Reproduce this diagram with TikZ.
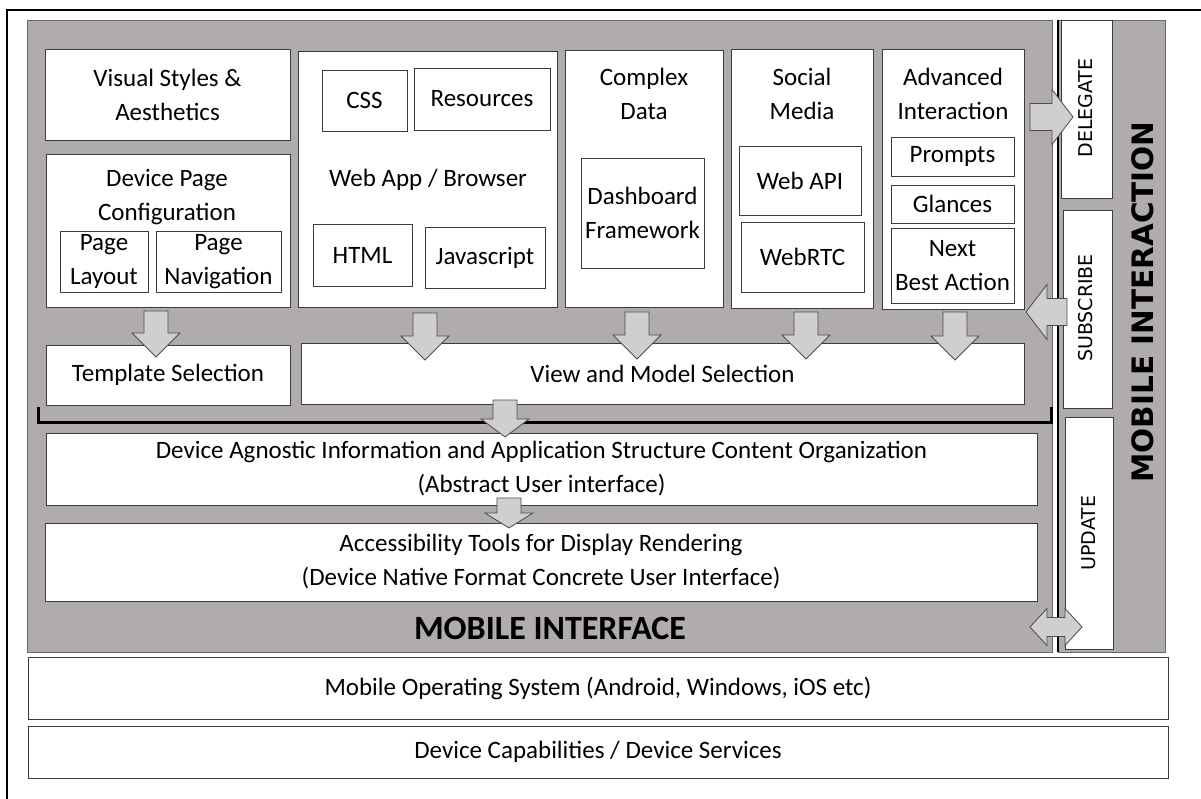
\documentclass[tikz,border=0pt]{standalone}
\usepackage{fontspec}
\setmainfont{Carlito}
\newfontfamily\vfont{DejaVu Sans}
\definecolor{panelgray}{RGB}{176,172,171}
\definecolor{arrowgray}{RGB}{208,206,206}
\definecolor{edge}{RGB}{60,60,60}
\newcommand\bx[7][]{\node[box,#1,minimum width={#4-#2},minimum height={#5-#3}] (#6) at (#2,#3) {};
  \node[txt] at (#6.center) {#7};}
\newcommand\darr[6]{\draw[blk] ({#1-#4},#2) -- ({#1+#4},#2) -- ({#1+#4},{#3-#6}) -- ({#1+#5},{#3-#6}) -- (#1,#3) -- ({#1-#5},{#3-#6}) -- ({#1-#4},{#3-#6}) -- cycle;}
\newcommand\rarr[6]{\draw[blk] (#1,{#3-#4}) -- ({#2-#6},{#3-#4}) -- ({#2-#6},{#3-#5}) -- (#2,#3) -- ({#2-#6},{#3+#5}) -- ({#2-#6},{#3+#4}) -- (#1,{#3+#4}) -- cycle;}
\newcommand\larr[6]{\draw[blk] (#2,{#3-#4}) -- ({#1+#6},{#3-#4}) -- ({#1+#6},{#3-#5}) -- (#1,#3) -- ({#1+#6},{#3+#5}) -- ({#1+#6},{#3+#4}) -- (#2,{#3+#4}) -- cycle;}
\newcommand\lrarr[6]{\draw[blk] (#1,#3) -- ({#1+#6},{#3-#5}) -- ({#1+#6},{#3-#4}) -- ({#2-#6},{#3-#4}) -- ({#2-#6},{#3-#5}) -- (#2,#3) -- ({#2-#6},{#3+#5}) -- ({#2-#6},{#3+#4}) -- ({#1+#6},{#3+#4}) -- ({#1+#6},{#3+#5}) -- cycle;}
\begin{document}
\begin{tikzpicture}[x=1pt,y=-1pt,
  box/.style={draw=edge,line width=0.9pt,fill=white,inner sep=0pt,outer sep=0pt,anchor=north west},
  txt/.style={font=\fontsize{25}{34}\selectfont,align=center,inner sep=0pt},
  vtxt/.style={font=\vfont\fontsize{19}{22}\selectfont,rotate=90,inner sep=0pt},
  blk/.style={draw=black!70,fill=arrowgray,line width=0.8pt,line join=miter},
  panel/.style={draw=black!60,fill=panelgray,line width=0.8pt,inner sep=0pt,outer sep=0pt,anchor=north west}]
\useasboundingbox (0,0) rectangle (1201,799);
% outer frame
\draw[line width=2pt] (7,799) -- (7,10) -- (1201,10);
% panels
\node[panel,minimum width=1025,minimum height=632] (mi) at (27,20) {};
\node[panel,minimum width=107,minimum height=632] (mint) at (1058,20) {};
\draw[line width=1.6pt] (mint.north west) -- (mint.south west);
% top row
\bx{45}{49}{290}{140}{vis}{Visual Styles \&\\Aesthetics}
\bx{46}{154}{290}{307}{dpc}{}
\node[txt] (dpct) at (167,197) {Device Page\\Configuration};
\bx{60}{231}{148}{292}{pl}{\fontsize{25}{31}\selectfont Page\\Layout}
\bx{156}{231}{281}{292}{pn}{\fontsize{25}{31}\selectfont Page\\Navigation}
\bx{298}{51}{557}{307}{web}{}
\node[txt] (webt) at (428,180) {Web App / Browser};
\bx{322}{70}{407}{131}{css}{CSS}
\bx{414}{68}{550}{130}{res}{Resources}
\bx{313}{224}{412}{286}{html}{HTML}
\bx{425}{227}{545}{288}{js}{Javascript}
\bx{565}{50}{723}{307}{cd}{}
\node[txt] (cdt) at (644,94) {Complex\\Data};
\bx{581}{158}{704}{268}{dash}{\fontsize{25}{31}\selectfont Dashboard\\Framework}
\bx{731}{49}{873}{308}{sm}{}
\node[txt] (smt) at (802,94) {Social\\Media};
\bx{739}{146}{861}{215}{api}{Web API}
\bx{741}{222}{864}{292}{rtc}{WebRTC}
\bx{882}{49}{1024}{309}{ai}{}
\node[txt] (ait) at (953,94) {Advanced\\Interaction};
\bx{891}{137}{1014}{176}{pr}{Prompts}
\bx{891}{185}{1014}{223}{gl}{Glances}
\bx{891}{228}{1014}{303}{nba}{\fontsize{25}{31}\selectfont Next\\Best Action}
% second row
\bx{46}{345}{290}{405}{tmpl}{Template Selection}
\bx{301}{343}{1024}{404}{vms}{View and Model Selection}
% bracket
\draw[line width=3pt,line cap=butt] (38,407) -- (38,422) -- (1051,422) -- (1051,407);
% lower boxes
\bx{46}{433}{1037}{505}{dai}{Device Agnostic Information and Application Structure Content Organization\\(Abstract User interface)}
\bx{45}{523}{1037}{601}{acc}{\fontsize{25}{32}\selectfont Accessibility Tools for Display Rendering\\(Device Native Format Concrete User Interface)}
\node[font=\bfseries\fontsize{34}{40}\selectfont,inner sep=0pt] (mitxt) at (550,628) {MOBILE INTERFACE};
\bx{28}{657}{1168}{719}{mos}{Mobile Operating System (Android, Windows, iOS etc)}
\bx{28}{726}{1168}{778}{dcs}{Device Capabilities / Device Services}
% interaction boxes
\node[box,minimum width=51,minimum height=178] (del) at (1061,20) {};
\node[vtxt] at (1086,108) {DELEGATE};
\node[box,minimum width=49,minimum height=198] (sub) at (1063,210) {};
\node[vtxt] at (1086,308) {SUBSCRIBE};
\node[box,minimum width=48,minimum height=232] (upd) at (1065,417) {};
\node[vtxt] at (1089,533) {UPDATE};
\node[font=\vfont\bfseries\fontsize{29.5}{34}\selectfont,rotate=90,inner sep=0pt] (mit) at (1143,302) {MOBILE INTERACTION};
% arrows
\darr{156}{311}{357}{12}{24}{24}
\darr{425}{313}{360}{12}{24}{24}
\darr{637}{312}{359}{12}{24}{24}
\darr{806}{312}{359}{12}{24}{24}
\darr{955}{312}{360}{12}{24}{24}
\darr{505}{400}{437}{12}{24}{18}
\darr{509}{498}{528}{12}{24}{15}
\rarr{1030}{1073}{117}{13.5}{27.5}{21}
\larr{1026}{1067}{312}{13.5}{27.5}{21}
\lrarr{1030}{1082}{627}{9.5}{18.5}{17}
\end{tikzpicture}
\end{document}
